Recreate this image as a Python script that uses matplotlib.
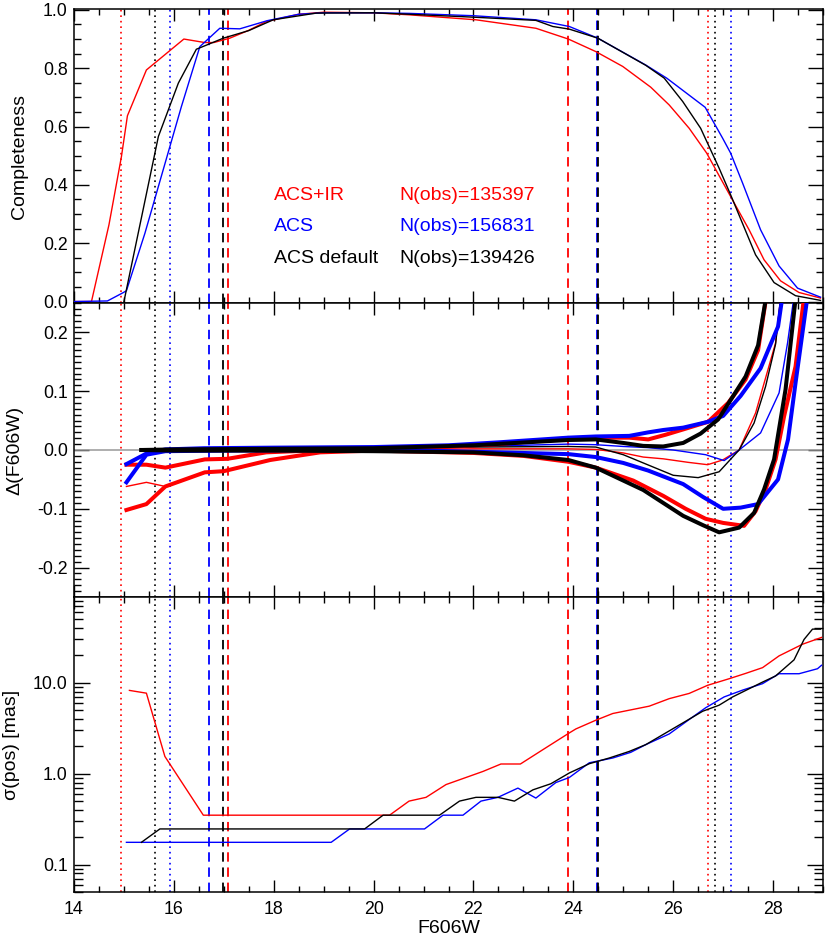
import matplotlib
matplotlib.use('Agg')
import matplotlib.pyplot as plt
from matplotlib.ticker import MultipleLocator, FixedLocator, FuncFormatter, LogLocator, NullFormatter

plt.rcParams['font.family'] = ['Liberation Sans', 'DejaVu Sans']
plt.rcParams['axes.unicode_minus'] = False

# ---------------- data ----------------
# Completeness
comp_red_x = [14.0, 14.35, 14.7, 14.95, 15.07, 15.45, 16.2, 16.62, 16.8, 17.12, 17.5, 17.85, 18.5, 19.0, 20.0,
              20.72, 22.05, 23.25, 23.9, 24.45, 24.99, 25.55, 25.92, 26.32, 26.67, 27.15, 27.52, 27.82, 28.15,
              28.52, 28.95]
comp_red_y = [0.0, 0.0, 0.263, 0.497, 0.637, 0.794, 0.90, 0.888, 0.888, 0.903, 0.93, 0.96, 0.985, 0.992, 0.99,
              0.983, 0.966, 0.937, 0.90, 0.857, 0.806, 0.735, 0.674, 0.594, 0.509, 0.36, 0.246, 0.143, 0.071,
              0.031, 0.012]
comp_blue_x = [14.0, 14.67, 14.99, 15.05, 15.42, 16.15, 16.52, 16.92, 17.32, 17.87, 18.5, 19.0, 20.0, 20.72,
               22.0, 23.25, 23.92, 24.49, 25.45, 25.87, 26.64, 26.99, 27.15, 27.39, 27.75, 28.12, 28.49, 28.95]
comp_blue_y = [0.0, 0.002, 0.031, 0.037, 0.234, 0.668, 0.874, 0.937, 0.935, 0.963, 0.985, 0.99, 0.99, 0.988,
               0.98, 0.966, 0.943, 0.903, 0.811, 0.766, 0.666, 0.56, 0.509, 0.406, 0.246, 0.122, 0.046, 0.015]
comp_black_x = [15.0, 15.69, 16.09, 16.45, 16.99, 17.5, 17.99, 18.85, 20.0, 20.72, 22.0, 23.25, 23.59, 23.92,
                24.49, 25.45, 25.82, 26.19, 26.55, 26.92, 27.15, 27.65, 28.02, 28.45, 28.95]
comp_black_y = [0.0, 0.566, 0.749, 0.865, 0.903, 0.929, 0.966, 0.989, 0.99, 0.985, 0.975, 0.964, 0.943, 0.934,
                0.903, 0.81, 0.766, 0.686, 0.594, 0.457, 0.366, 0.16, 0.065, 0.02, 0.004]

# Delta(F606W): thick = upper / lower envelopes, thin = median
red_hi_x = [15.05, 15.45, 15.83, 16.62, 17.07, 17.85, 19.0, 21.0, 22.5, 23.9, 24.45, 25.12, 25.5, 25.85, 26.2,
            26.7, 27.1, 27.45, 27.7, 27.9]
red_hi_y = [-0.025, -0.025, -0.030, -0.016, -0.015, -0.004, 0.000, 0.003, 0.010, 0.020, 0.021, 0.021, 0.018,
            0.026, 0.035, 0.048, 0.080, 0.120, 0.170, 0.28]
red_lo_x = [15.05, 15.45, 15.83, 16.62, 17.0, 17.93, 18.93, 20.0, 22.0, 23.0, 23.9, 24.45, 25.2, 25.8, 26.25,
            26.65, 27.0, 27.42, 27.65, 27.85, 28.05, 28.22, 28.45, 28.65]
red_lo_y = [-0.102, -0.092, -0.062, -0.038, -0.036, -0.017, -0.004, -0.001, -0.005, -0.010, -0.020, -0.030,
            -0.052, -0.078, -0.100, -0.117, -0.124, -0.129, -0.104, -0.067, -0.016, 0.057, 0.142, 0.28]
red_md_x = [15.05, 15.45, 15.83, 16.62, 17.0, 17.93, 18.93, 20.0, 22.0, 23.9, 24.45, 25.0, 25.4, 25.8, 26.3,
            26.69, 26.99, 27.32, 27.65, 28.05, 28.18]
red_md_y = [-0.062, -0.055, -0.062, -0.038, -0.036, -0.017, -0.004, 0.000, 0.002, 0.002, 0.001, -0.005, -0.012,
            -0.015, -0.021, -0.025, -0.017, 0.000, 0.063, 0.182, 0.28]

blue_hi_x = [15.05, 15.45, 15.83, 16.6, 18.0, 20.0, 21.5, 22.5, 23.9, 24.45, 25.12, 25.5, 25.8, 26.2, 26.7,
             27.0, 27.35, 27.75, 28.1, 28.22]
blue_hi_y = [-0.024, -0.006, 0.001, 0.003, 0.004, 0.005, 0.008, 0.013, 0.021, 0.023, 0.024, 0.030, 0.034,
             0.038, 0.048, 0.058, 0.092, 0.139, 0.210, 0.28]
blue_lo_x = [15.05, 15.45, 15.83, 17.0, 19.0, 21.0, 22.5, 23.9, 24.45, 25.0, 25.5, 26.2, 26.6, 27.0, 27.35,
             27.7, 28.1, 28.3, 28.45, 28.72]
blue_lo_y = [-0.055, -0.008, -0.002, -0.001, 0.000, -0.001, -0.004, -0.007, -0.012, -0.022, -0.035, -0.058,
             -0.080, -0.100, -0.098, -0.092, -0.050, 0.018, 0.114, 0.28]
blue_md_x = [15.45, 15.83, 18.0, 20.0, 22.0, 23.9, 24.45, 25.0, 25.5, 26.0, 26.65, 27.02, 27.32, 27.75, 28.12,
             28.29, 28.45]
blue_md_y = [-0.007, 0.000, 0.002, 0.003, 0.006, 0.010, 0.009, 0.006, 0.004, 0.000, -0.008, -0.018, 0.000,
             0.029, 0.097, 0.182, 0.28]

black_hi_x = [15.35, 16.0, 18.0, 20.0, 22.0, 23.9, 24.45, 25.0, 25.4, 25.8, 26.2, 26.55, 26.9, 27.15, 27.45,
              27.7, 27.9]
black_hi_y = [0.0, 0.001, 0.002, 0.003, 0.008, 0.017, 0.018, 0.012, 0.007, 0.006, 0.012, 0.028, 0.052, 0.085,
              0.125, 0.178, 0.28]
black_lo_x = [15.35, 16.0, 18.0, 20.0, 22.0, 23.0, 23.9, 24.45, 25.0, 25.4, 25.8, 26.2, 26.6, 26.92, 27.32,
              27.62, 27.82, 28.02, 28.25, 28.48]
black_lo_y = [0.0, -0.001, -0.001, -0.002, -0.004, -0.009, -0.017, -0.030, -0.052, -0.068, -0.090, -0.112,
              -0.128, -0.140, -0.132, -0.107, -0.067, -0.016, 0.103, 0.28]
black_md_x = [15.35, 18.0, 20.0, 22.0, 23.9, 24.45, 25.0, 25.4, 26.0, 26.5, 26.92, 27.32, 27.62, 27.85, 28.05,
              28.18]
black_md_y = [0.0, 0.001, 0.002, 0.005, 0.006, 0.005, -0.008, -0.022, -0.043, -0.047, -0.037, 0.000, 0.046,
              0.108, 0.180, 0.28]

# sigma(pos) [mas]
sig_red_x = [15.11, 15.45, 15.82, 16.59, 20.32, 20.71, 21.05, 21.45, 22.19, 22.55, 22.94, 23.39, 23.9, 24.05,
             24.45, 24.79, 25.52, 25.92, 26.32, 26.69, 27.12, 27.45, 27.79, 28.12, 28.59, 28.97]
sig_red_y = [8.26, 7.7, 1.55, 0.35, 0.35, 0.50, 0.55, 0.76, 1.06, 1.28, 1.28, 1.84, 2.77, 3.11, 3.88, 4.6,
             5.54, 6.7, 7.65, 9.4, 11.1, 12.7, 14.7, 19.8, 26.6, 31.6]
sig_blue_x = [15.05, 19.15, 19.52, 21.02, 21.39, 21.79, 22.15, 22.49, 22.89, 23.25, 23.65, 23.92, 24.32, 24.79,
              25.15, 25.45, 25.92, 26.32, 26.65, 27.02, 27.39, 27.79, 28.12, 28.52, 28.89, 28.97]
sig_blue_y = [0.176, 0.176, 0.247, 0.247, 0.35, 0.35, 0.50, 0.55, 0.695, 0.54, 0.80, 0.91, 1.32, 1.49, 1.72,
              2.09, 2.74, 3.95, 5.32, 7.0, 8.32, 9.8, 12.6, 12.6, 14.3, 15.6]
sig_black_x = [15.35, 15.72, 19.82, 20.19, 21.32, 21.72, 22.05, 22.49, 22.82, 23.19, 23.55, 23.92, 24.32, 24.72,
               25.12, 25.45, 25.85, 26.25, 26.59, 26.92, 27.19, 27.79, 28.05, 28.42, 28.62, 28.79, 28.95]
sig_black_y = [0.176, 0.247, 0.247, 0.35, 0.35, 0.50, 0.55, 0.55, 0.50, 0.665, 0.776, 1.02, 1.29, 1.49, 1.76,
               2.09, 2.81, 3.78, 4.87, 5.68, 7.0, 10.2, 11.9, 17.9, 30.0, 39.0, 39.0]

# magnitude limits (vertical lines)
red_limits_dotted = [14.95, 26.69]
black_limits_dotted = [15.63, 26.83]
blue_limits_dotted = [15.92, 27.15]
blue_limits_dashed = [16.71, 24.47]
black_limits_dashed = [16.98, 24.49]
red_limits_dashed = [17.08, 23.9]

legend_names = ['ACS+IR', 'ACS', 'ACS default']
legend_nobs = [135397, 156831, 139426]
legend_colors = ['#ff0000', '#0000ff', '#000000']

RED, BLUE, BLACK = '#ff0000', '#0000ff', '#000000'

# ---------------- figure ----------------
fig = plt.figure(figsize=(8.3, 9.49), dpi=100)
L, W = 74 / 830, 749 / 830


def fy(p):
    return 1 - p / 949


ax1 = fig.add_axes([L, fy(303), W, fy(9.3) - fy(303)])
ax2 = fig.add_axes([L, fy(597), W, fy(303) - fy(597)])
ax3 = fig.add_axes([L, fy(892), W, fy(597) - fy(892)])

dot = (0, (1.0, 2.3))
dash = (0, (5.2, 3.2))
for ax in (ax1, ax2, ax3):
    for x in red_limits_dotted:
        ax.axvline(x, color=RED, ls=dot, lw=1.2, zorder=1)
    for x in black_limits_dotted:
        ax.axvline(x, color=BLACK, ls=dot, lw=1.2, zorder=1)
    for x in blue_limits_dotted:
        ax.axvline(x, color=BLUE, ls=dot, lw=1.2, zorder=1)
    for x in red_limits_dashed:
        ax.axvline(x, color=RED, ls=dash, lw=1.3, zorder=1)
    for x in blue_limits_dashed:
        ax.axvline(x, color=BLUE, ls=dash, lw=1.3, zorder=1)
    for x in black_limits_dashed:
        ax.axvline(x, color=BLACK, ls=dash, lw=1.3, zorder=1)

# top panel
ax1.plot(comp_red_x, comp_red_y, color=RED, lw=1.0, zorder=3)
ax1.plot(comp_blue_x, comp_blue_y, color=BLUE, lw=1.0, zorder=3)
ax1.plot(comp_black_x, comp_black_y, color=BLACK, lw=1.0, zorder=3)
for i, (nm, nb, c) in enumerate(zip(legend_names, legend_nobs, legend_colors)):
    yy = [0.349, 0.242, 0.133][i]
    ax1.text(18.0, yy, nm, color=c, fontsize=14, va='baseline', ha='left')
    ax1.text(20.51, yy, 'N(obs)=%d' % nb, color=c, fontsize=14, va='baseline', ha='left')

# middle panel
ax2.axhline(0.0, color='#999999', lw=1.1, zorder=2)
thin, thick = 1.0, 2.9
ax2.plot(red_md_x, red_md_y, color=RED, lw=thin, zorder=3)
ax2.plot(blue_md_x, blue_md_y, color=BLUE, lw=thin, zorder=3)
ax2.plot(black_md_x, black_md_y, color=BLACK, lw=thin, zorder=3)
ax2.plot(red_hi_x, red_hi_y, color=RED, lw=thick, zorder=4)
ax2.plot(red_lo_x, red_lo_y, color=RED, lw=thick, zorder=4)
ax2.plot(blue_hi_x, blue_hi_y, color=BLUE, lw=thick, zorder=5)
ax2.plot(blue_lo_x, blue_lo_y, color=BLUE, lw=thick, zorder=5)
ax2.plot(black_hi_x, black_hi_y, color=BLACK, lw=thick, zorder=6)
ax2.plot(black_lo_x, black_lo_y, color=BLACK, lw=thick, zorder=6)

# bottom panel
ax3.plot(sig_red_x, sig_red_y, color=RED, lw=1.0, zorder=3)
ax3.plot(sig_blue_x, sig_blue_y, color=BLUE, lw=1.0, zorder=3)
ax3.plot(sig_black_x, sig_black_y, color=BLACK, lw=1.0, zorder=3)
ax3.set_yscale('log')

# axes styling
fmt1 = FuncFormatter(lambda v, p: '%.1f' % v)
for ax in (ax1, ax2, ax3):
    ax.set_xlim(14, 29)
    ax.xaxis.set_major_locator(MultipleLocator(2))
    ax.xaxis.set_minor_locator(MultipleLocator(0.5))
    ax.tick_params(which='both', direction='in', top=True, right=True, labelsize=12.8)
    ax.tick_params(axis='y', which='major', length=11, width=1.0, pad=4.5)
    ax.tick_params(axis='y', which='minor', length=5.2, width=1.0)
    ax.tick_params(axis='x', which='major', length=8.6, width=1.0, pad=6.5)
    ax.tick_params(axis='x', which='minor', length=4.3, width=1.0)
    for s in ax.spines.values():
        s.set_linewidth(1.1)

ax1.set_ylim(-0.005, 1.002)
ax1.yaxis.set_major_locator(FixedLocator([0.0, 0.2, 0.4, 0.6, 0.8, 1.0]))
ax1.yaxis.set_minor_locator(MultipleLocator(0.05))
ax1.yaxis.set_major_formatter(fmt1)
ax1.tick_params(labelbottom=False)
ax1.set_ylabel('Completeness', fontsize=14)
ax1.yaxis.set_label_coords(-0.061, 0.5)

ax2.set_ylim(-0.25, 0.25)
ax2.yaxis.set_major_locator(FixedLocator([-0.2, -0.1, 0.0, 0.1, 0.2]))
ax2.yaxis.set_minor_locator(MultipleLocator(0.01))
ax2.yaxis.set_major_formatter(fmt1)
ax2.tick_params(labelbottom=False)
ax2.set_ylabel('Δ(F606W)', fontsize=14)
ax2.yaxis.set_label_coords(-0.068, 0.5)

ax3.set_ylim(0.05, 88)
ax3.yaxis.set_major_locator(FixedLocator([0.1, 1.0, 10.0]))
ax3.yaxis.set_minor_locator(LogLocator(base=10, subs=[2, 3, 4, 5, 6, 7, 8, 9]))
ax3.yaxis.set_major_formatter(fmt1)
ax3.yaxis.set_minor_formatter(NullFormatter())
ax3.tick_params(axis='y', which='major', length=11.5)
ax3.tick_params(axis='y', which='minor', length=6.2)
ax3.set_ylabel('σ(pos) [mas]', fontsize=14)
ax3.yaxis.set_label_coords(-0.072, 0.5)
ax3.xaxis.set_major_formatter(FuncFormatter(lambda v, p: '%d' % v))
ax3.set_xlabel('F606W', fontsize=14, labelpad=1.5)

fig.savefig('out.png', dpi=100)
